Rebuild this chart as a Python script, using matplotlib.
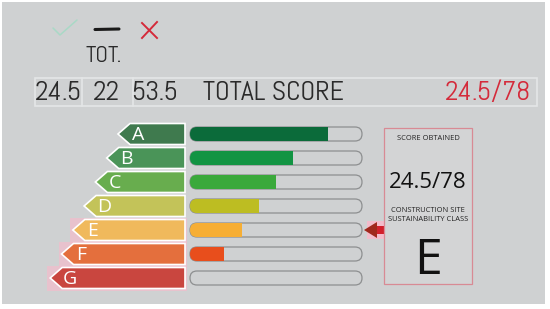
import matplotlib.pyplot as plt
from matplotlib.patches import Polygon, Rectangle, FancyBboxPatch

# data
classes = ['A', 'B', 'C', 'D', 'E', 'F', 'G']
class_colors = ['#3f7a4e', '#4a9458', '#68ad4e', '#c3c359', '#f0b95c', '#e46f3d', '#c9463f']
fill_pct = [80, 60, 50, 40, 30, 20, 0]
fill_colors = ['#0b6b3a', '#129443', '#3aa93b', '#bdbd22', '#f6ae34', '#e84e1c', '#cccccc']
partial_scores = ['24.5', '22', '53.5']
total_label = 'TOTAL SCORE'
total_score = '24.5/78'
obtained_class = 'E'

din = ['Abel', 'Open Sans', 'DejaVu Sans']
sans = ['Open Sans', 'DejaVu Sans']

fig = plt.figure(figsize=(5.5, 3.09), dpi=100)
ax = fig.add_axes([0, 0, 1, 1])
ax.set_xlim(0, 550)
ax.set_ylim(309, 0)
ax.axis('off')
fig.patch.set_facecolor('white')

bg = '#cfd1d2'
ax.add_patch(Rectangle((2, 2), 543, 302, facecolor=bg, edgecolor='none'))

# top icons
ax.plot([53, 60, 77], [28, 35, 20], color='#a9d9c6', lw=1.1, solid_capstyle='round')
ax.plot([95, 119], [29.5, 29], color='#1a1a1a', lw=2.2, solid_capstyle='round')
ax.plot([142, 157], [23, 38], color='#d42a3a', lw=1.4)
ax.plot([157, 142], [22, 38], color='#d42a3a', lw=1.4)
ax.text(104, 56, 'TOT.', ha='center', va='center', fontsize=17, family=din, color='#2a2a2a')

# score row
ax.add_patch(Rectangle((35, 78), 502, 28, facecolor='none', edgecolor='#e4e6e7', lw=1.2))
for xs in [82, 133]:
    ax.plot([xs, xs], [78, 106], color='#e4e6e7', lw=1.2)
for xc, s in zip([58, 107, 155], partial_scores):
    ax.text(xc, 93, s, ha='center', va='center', fontsize=20, family=din, color='#2a2a2a')
ax.text(203, 93, total_label, ha='left', va='center', fontsize=20, family=din, color='#2a2a2a')
ax.text(531, 93, total_score, ha='right', va='center', fontsize=20, family=din, color='#d42a3a')

# class arrows and bars
row_h = 21
track_x0, track_len = 190, 172
ys = [134 + 24 * i for i in range(len(classes))]
for i, (c, col, y) in enumerate(zip(classes, class_colors, ys)):
    tip = 118 - 11.3 * i
    top, bot = y - row_h / 2, y + row_h / 2
    if c in ('E', 'F', 'G'):
        ax.add_patch(Rectangle((tip - 3, top - 2), 190 - tip, row_h + 4,
                               facecolor='#f3bccb', edgecolor='none', alpha=0.7))
    ax.add_patch(Polygon([(tip, y), (tip + 12, top), (185, top), (185, bot), (tip + 12, bot)],
                         closed=True, facecolor=col, edgecolor='white', lw=1.2))
    ax.text(tip + 20, y + 1, c, ha='center', va='center', fontsize=14, color='white',
            family=sans)

    track = FancyBboxPatch((track_x0, y - 7), track_len, 14,
                           boxstyle='round,pad=0,rounding_size=7',
                           facecolor=bg, edgecolor='#8d8f90', lw=0.9, zorder=2)
    ax.add_patch(track)

bars = ax.barh(ys, [p / 100 * track_len for p in fill_pct], left=track_x0, height=14,
               color=fill_colors, zorder=3)
for b, y in zip(bars, ys):
    clip = FancyBboxPatch((track_x0, y - 7), track_len, 14,
                          boxstyle='round,pad=0,rounding_size=7', transform=ax.transData)
    b.set_clip_path(clip)

# pointer arrow at obtained class
ye = ys[classes.index(obtained_class)]
ax.add_patch(Rectangle((367, ye - 9), 17, 18, facecolor='#f3bccb', edgecolor='none'))
ax.add_patch(Rectangle((374, ye - 4), 10, 8, facecolor='#d21f2b', edgecolor='none'))
ax.add_patch(Polygon([(364, ye), (377, ye - 8), (377, ye + 8)], closed=True,
                     facecolor='#a0281c', edgecolor='none'))

# result box
ax.add_patch(Rectangle((384, 128), 88, 156, facecolor='#d3d4d5', edgecolor='#d88a94', lw=0.9))
ax.text(428, 139, 'SCORE OBTAINED', ha='center', va='center', fontsize=5.4, family=sans,
        color='#222222')
ax.text(428, 183, total_score, ha='center', va='center', fontsize=16, family=sans, color='#111111')
ax.text(428, 210, 'CONSTRUCTION SITE', ha='center', va='center', fontsize=5.4, family=sans,
        color='#222222')
ax.text(428, 219.5, 'SUSTAINABILITY CLASS', ha='center', va='center', fontsize=5.4, family=sans,
        color='#222222')
ax.text(428, 261, obtained_class, ha='center', va='center', fontsize=36, family=sans, color='#111111')

fig.savefig('out.png', dpi=100)
